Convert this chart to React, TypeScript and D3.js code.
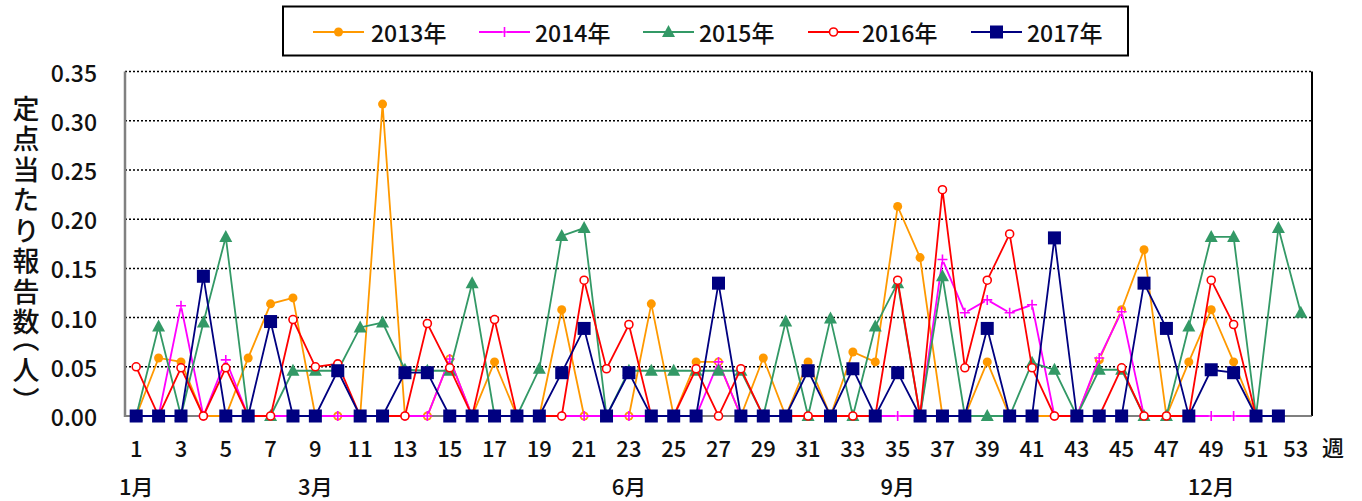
import React from 'react';
import * as d3 from 'd3';

const weeks = d3.range(1, 54);
const yTicks = [0, 0.05, 0.1, 0.15, 0.2, 0.25, 0.3, 0.35];
const xTickWeeks = weeks.filter(w => w % 2 === 1);
const monthLabels = ['1月', '3月', '6月', '9月', '12月'];
const monthWeeks = [1, 9, 23, 35, 49];
const seriesNames = ['2013年', '2014年', '2015年', '2016年', '2017年'];

const v2013 = [0, .059, .055, 0, 0, .059, .114, .120, 0, 0, 0, .317, 0, 0, .058, 0, .055, 0, 0, .108, 0, 0, 0, .114, 0, .055, .055, 0, .059, 0, .055, 0, .065, .055, .213, .161, 0, 0, .055, 0, 0, 0, 0, .057, .108, .169, 0, .055, .108, .055, 0, 0, null];
const v2014 = [0, 0, .112, 0, .057, 0, 0, 0, 0, 0, 0, 0, 0, 0, .058, 0, 0, 0, 0, 0, 0, 0, 0, 0, 0, 0, .055, 0, 0, 0, 0, 0, 0, 0, 0, 0, .159, .105, .118, .105, .113, 0, 0, .059, .106, 0, 0, 0, 0, 0, 0, 0, null];
const v2015 = [0, .091, 0, .095, .182, 0, 0, .046, .046, .046, .090, .095, .047, .046, .046, .135, 0, 0, .048, .183, .191, 0, .046, .046, .046, .046, .046, .046, 0, .096, 0, .099, 0, .091, .135, 0, .142, 0, 0, 0, .054, .047, 0, .047, .047, 0, 0, .091, .182, .182, 0, .191, .105];
const v2016 = [.050, 0, .049, 0, .049, 0, 0, .098, .050, .053, 0, 0, 0, .094, .049, 0, .098, 0, 0, 0, .138, .048, .093, 0, 0, .048, 0, .048, 0, 0, 0, 0, 0, 0, .138, 0, .230, .049, .138, .185, .049, 0, 0, 0, .049, 0, 0, 0, .138, .093, 0, 0, null];
const v2017 = [0, 0, 0, .142, 0, 0, .096, 0, 0, .046, 0, 0, .044, .044, 0, 0, 0, 0, 0, .044, .089, 0, .044, 0, 0, 0, .135, 0, 0, 0, .046, 0, .048, 0, .044, 0, 0, 0, .089, 0, 0, .181, 0, 0, 0, .135, .089, 0, .047, .044, 0, 0, null];

const colors = ['#FF9900', '#FF00FF', '#339966', '#FF0000', '#000080'];
const markers = ['dot', 'plus', 'tri', 'ring', 'square'];
const allValues = [v2013, v2014, v2015, v2016, v2017];

const W = 1362, H = 501;
const left = 125, right = 1312, top = 71.6, bottom = 416;
const FONT = '"Noto Sans CJK JP", "Noto Sans", sans-serif';

const Marker = ({ kind, x, y, color }: { kind: string; x: number; y: number; color: string }) => {
  if (kind === 'dot') return <circle cx={x} cy={y} r={4.5} fill={color} />;
  if (kind === 'plus') return (
    <g>
      <circle cx={x} cy={y} r={2.6} fill="#fff" />
      <path d={`M${x - 5},${y}H${x + 5}M${x},${y - 5}V${y + 5}`} stroke={color} strokeWidth={1.6} />
    </g>
  );
  if (kind === 'tri') return <path d={`M${x},${y - 7}L${x + 6.5},${y + 5}L${x - 6.5},${y + 5}Z`} fill={color} />;
  if (kind === 'ring') return <circle cx={x} cy={y} r={4} fill="#fff" stroke={color} strokeWidth={1.6} />;
  return <rect x={x - 6.5} y={y - 6.5} width={13} height={13} fill={color} />;
};

export default function App() {
  const xBand = d3.scaleBand<number>().domain(weeks).range([left, right]).paddingInner(0);
  const x = (w: number) => (xBand(w) as number) + xBand.bandwidth() / 2;
  const y = d3.scaleLinear().domain([0, 0.35]).range([bottom, top]);

  const line = d3.line<number | null>()
    .defined(d => d !== null)
    .x((_, i) => x(weeks[i]))
    .y(d => y(d as number));

  const legendItems = [
    { lx: 313, tx: 371 },
    { lx: 479, tx: 535 },
    { lx: 643, tx: 699 },
    { lx: 808, tx: 862 },
    { lx: 971, tx: 1027 },
  ];

  const halfWidth = { fontFeatureSettings: '"vhal" 1, "halt" 1' } as any;

  return (
    <svg width={W} height={H} style={{ position: 'absolute', left: 0, top: 0, background: '#fff' }} fontFamily={FONT} fontWeight={500} fill="#111">
      {/* grid */}
      {yTicks.filter(t => t > 0).map(t => (
        <line key={t} x1={left} x2={right} y1={y(t)} y2={y(t)} stroke="#000" strokeWidth={1.5} strokeDasharray="2 2" />
      ))}
      <line x1={right} x2={right} y1={top} y2={bottom} stroke="#000" strokeWidth={2} />
      <line x1={left} x2={right} y1={bottom} y2={bottom} stroke="#555" strokeWidth={1.5} />
      <line x1={left} x2={left} y1={top} y2={bottom + 1} stroke="#808080" strokeWidth={2.5} />

      {/* y ticks */}
      {yTicks.map(t => (
        <text key={t} x={97} y={y(t)} textAnchor="end" dominantBaseline="central" fontSize={23}>{t.toFixed(2)}</text>
      ))}
      {/* x ticks */}
      {xTickWeeks.map(w => (
        <text key={w} x={w === 53 ? x(w) - 5 : x(w)} y={457} textAnchor="middle" fontSize={22}>{w}</text>
      ))}
      <text x={1322} y={456} fontSize={22}>週</text>
      {monthLabels.map((m, i) => (
        <text key={m} x={x(monthWeeks[i])} y={495} textAnchor="middle" fontSize={22}>{m}</text>
      ))}
      {/* y label, vertical */}
      <text x={26} y={95} fontSize={27} style={{ writingMode: 'vertical-rl', letterSpacing: '3.5px' } as any}>
        定点当たり報告数<tspan style={halfWidth}>（</tspan>人<tspan style={halfWidth}>）</tspan>
      </text>

      {/* series */}
      {allValues.map((vals, si) => (
        <g key={si}>
          <path d={line(vals) || ''} fill="none" stroke={colors[si]} strokeWidth={1.8} />
          {vals.map((v, i) => v === null ? null : (
            <Marker key={i} kind={markers[si]} x={x(weeks[i])} y={y(v)} color={colors[si]} />
          ))}
        </g>
      ))}

      {/* legend */}
      <rect x={283} y={6.5} width={845} height={49} fill="#fff" stroke="#000" strokeWidth={2} />
      {legendItems.map((it, i) => (
        <g key={i}>
          <line x1={it.lx} x2={it.lx + 51} y1={32} y2={32} stroke={colors[i]} strokeWidth={1.8} />
          <Marker kind={markers[i]} x={it.lx + 25.5} y={32} color={colors[i]} />
          <text x={it.tx} y={32} dominantBaseline="central" fontSize={23}>{seriesNames[i]}</text>
        </g>
      ))}
    </svg>
  );
}
